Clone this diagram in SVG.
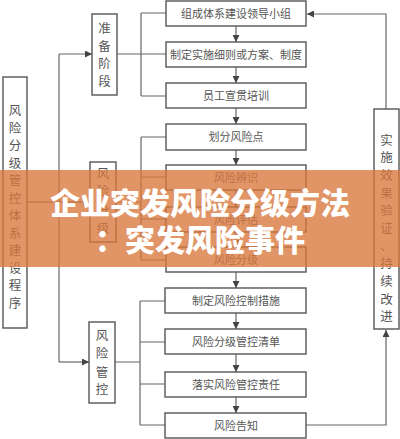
<svg xmlns="http://www.w3.org/2000/svg" width="400" height="439" viewBox="0 0 400 439">
<defs>
<style>
.box{fill:#fff;stroke:#555;stroke-width:1.4}
.ln{fill:none;stroke:#666;stroke-width:1.2}
.t{font-family:"Noto Sans CJK SC","Noto Sans CJK JP",sans-serif;font-size:11px;fill:#555;text-anchor:middle}
.v{font-family:"Noto Sans CJK SC","Noto Sans CJK JP",sans-serif;font-size:12.5px;fill:#555;text-anchor:middle}
.title{font-family:"Noto Sans CJK SC","Noto Sans CJK JP",sans-serif;font-size:30px;font-weight:900;fill:#fff;text-anchor:middle}
</style>
<marker id="ar" viewBox="0 0 10 10" refX="10" refY="5" markerWidth="7" markerHeight="7" markerUnits="userSpaceOnUse" orient="auto">
<path d="M0,0L10,5L0,10z" fill="#444"/>
</marker>
</defs>
<rect width="400" height="439" fill="#fff"/>
<g id="connectors">
<path class="ln" d="M27,202H59"/>
<path class="ln" d="M59,54V362"/>
<path class="ln" d="M59,54H92" marker-end="url(#ar)"/>
<path class="ln" d="M59,202H90" marker-end="url(#ar)"/>
<path class="ln" d="M59,362H89" marker-end="url(#ar)"/>
<path class="ln" d="M117,54H141M141,13V96M141,13H166M141,54H166M141,96H166"/>
<path class="ln" d="M116,202H141M141,137V260M141,137H166M141,177H166M141,219H166M141,260H166"/>
<path class="ln" d="M115,362H140M140,301V425M140,301H165M140,342H165M140,384H165M140,425H165"/>
<path class="ln" d="M236,26V42" marker-end="url(#ar)"/>
<path class="ln" d="M236,67V83" marker-end="url(#ar)"/>
<path class="ln" d="M236,108V124" marker-end="url(#ar)"/>
<path class="ln" d="M236,150V165" marker-end="url(#ar)"/>
<path class="ln" d="M236,190V207" marker-end="url(#ar)"/>
<path class="ln" d="M236,232V247" marker-end="url(#ar)"/>
<path class="ln" d="M236,272V288" marker-end="url(#ar)"/>
<path class="ln" d="M236,313V329" marker-end="url(#ar)"/>
<path class="ln" d="M236,354V372" marker-end="url(#ar)"/>
<path class="ln" d="M236,397V413" marker-end="url(#ar)"/>
<path class="ln" d="M386,109V14H307" marker-end="url(#ar)"/>
<path class="ln" d="M306,425H386V330" marker-end="url(#ar)"/>
</g>
<g id="left">
<rect class="box" x="3" y="77" width="24" height="251"/>
<text class="v"><tspan x="15" y="115">风</tspan><tspan x="15" y="132.5">险</tspan><tspan x="15" y="150">分</tspan><tspan x="15" y="167.5">级</tspan><tspan x="15" y="185">管</tspan><tspan x="15" y="202.5">控</tspan><tspan x="15" y="220">体</tspan><tspan x="15" y="237.5">系</tspan><tspan x="15" y="255">建</tspan><tspan x="15" y="272.5">设</tspan><tspan x="15" y="290">程</tspan><tspan x="15" y="307.5">序</tspan></text>
</g>
<g id="stage1">
<rect class="box" x="92" y="14" width="25" height="81"/>
<text class="v"><tspan x="104.5" y="32.5">准</tspan><tspan x="104.5" y="50.5">备</tspan><tspan x="104.5" y="68">阶</tspan><tspan x="104.5" y="85.5">段</tspan></text>
</g>
<g id="stage2">
<rect class="box" x="90" y="162" width="26" height="80"/>
<text class="v"><tspan x="103" y="177.5">风</tspan><tspan x="103" y="196">险</tspan><tspan x="103" y="214.5">分</tspan><tspan x="103" y="232.5">级</tspan></text>
</g>
<g id="stage3">
<rect class="box" x="89" y="322" width="26" height="81"/>
<text class="v"><tspan x="102" y="339.5">风</tspan><tspan x="102" y="358">险</tspan><tspan x="102" y="376.5">管</tspan><tspan x="102" y="394">控</tspan></text>
</g>
<g id="n1"><rect class="box" x="166" y="1" width="140" height="25"/><text class="t" x="236" y="17.5">组成体系建设领导小组</text></g>
<g id="n2"><rect class="box" x="166" y="42" width="140" height="25"/><text class="t" x="236" y="58.5">制定实施细则或方案、制度</text></g>
<g id="n3"><rect class="box" x="166" y="83" width="140" height="25"/><text class="t" x="236" y="99.5">员工宣贯培训</text></g>
<g id="n4"><rect class="box" x="166" y="124" width="140" height="26"/><text class="t" x="236" y="141">划分风险点</text></g>
<g id="n5"><rect class="box" x="166" y="165" width="140" height="25"/><text class="t" x="236" y="181.5">风险辨识</text></g>
<g id="n6"><rect class="box" x="166" y="207" width="140" height="25"/><text class="t" x="236" y="223.5">风险评估</text></g>
<g id="n7"><rect class="box" x="166" y="247" width="140" height="25"/><text class="t" x="236" y="263.5">风险分级</text></g>
<g id="n8"><rect class="box" x="165" y="288" width="141" height="25"/><text class="t" x="236" y="304.5">制定风险控制措施</text></g>
<g id="n9"><rect class="box" x="165" y="329" width="141" height="25"/><text class="t" x="236" y="345.5">风险分级管控清单</text></g>
<g id="n10"><rect class="box" x="165" y="372" width="141" height="25"/><text class="t" x="236" y="388.5">落实风险管控责任</text></g>
<g id="n11"><rect class="box" x="165" y="413" width="141" height="25"/><text class="t" x="236" y="429.5">风险告知</text></g>
<g id="right">
<rect class="box" x="374" y="109" width="25" height="220"/>
<text class="v"><tspan x="386.5" y="144.5">实</tspan><tspan x="386.5" y="162">施</tspan><tspan x="386.5" y="180">效</tspan><tspan x="386.5" y="197.5">果</tspan><tspan x="386.5" y="215">验</tspan><tspan x="386.5" y="233">证</tspan><tspan x="386.5" y="250.5">、</tspan><tspan x="386.5" y="268">持</tspan><tspan x="386.5" y="286">续</tspan><tspan x="386.5" y="303.5">改</tspan><tspan x="386.5" y="321">进</tspan></text>
</g>
<g id="banner">
<rect x="0" y="170" width="400" height="97" fill="#D9773C" opacity="0.78"/>
<text class="title" x="200" y="214">企业突发风险分级方法</text>
<text class="title" x="200" y="251">：突发风险事件</text>
</g>
</svg>
